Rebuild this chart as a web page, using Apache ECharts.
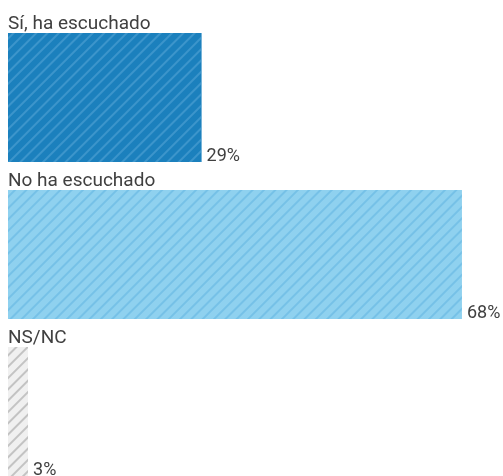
<!DOCTYPE html>
<html>
<head>
<meta charset="utf-8">
<script src="https://cdn.jsdelivr.net/npm/echarts@6/dist/echarts.min.js"></script>
<style>html,body{margin:0;padding:0;background:#fff}#c{width:503px;height:476px}</style>
</head>
<body>
<div id="c"></div>
<script>
const categories = ['Sí, ha escuchado', 'No ha escuchado', 'NS/NC'];
const values = [29, 68, 3];
const valueLabels = ['29%', '68%', '3%'];
const barColors = ['#1b80bd', '#8fd1ef', '#f0f0f0'];
const stripeColors = ['rgba(110,180,225,0.4)', 'rgba(80,170,220,0.4)', 'rgba(180,180,180,0.75)'];

const chart = echarts.init(document.getElementById('c'), null, {renderer: 'canvas'});
chart.setOption({
  animation: false,
  grid: {left: 8, right: 1, top: 19, bottom: -14, containLabel: false, outerBoundsMode: 'none'},
  xAxis: {type: 'value', min: 0, max: 74, show: false},
  yAxis: {
    type: 'category', data: categories, inverse: true,
    axisLine: {show: false}, axisTick: {show: false}, splitLine: {show: false},
    axisLabel: {
      inside: true, margin: 0, align: 'left', verticalAlign: 'bottom',
      padding: [0, 0, 64, 0],
      fontFamily: 'Roboto', fontSize: 19, color: '#404040', letterSpacing: -0.6
    }
  },
  series: [{
    type: 'bar', barWidth: 129,
    data: values.map((v, i) => ({
      value: v,
      itemStyle: {
        color: barColors[i],
        decal: {
          symbol: 'rect', dashArrayX: [1, 0], dashArrayY: [1.2, 6],
          rotation: -Math.PI / 4, color: stripeColors[i]
        }
      }
    })),
    label: {
      show: true, position: 'right', distance: 5, offset: [0, 59],
      formatter: p => valueLabels[p.dataIndex],
      fontFamily: 'Roboto', fontSize: 18, color: '#404040', letterSpacing: -0.6
    }
  }]
});
</script>
</body>
</html>
